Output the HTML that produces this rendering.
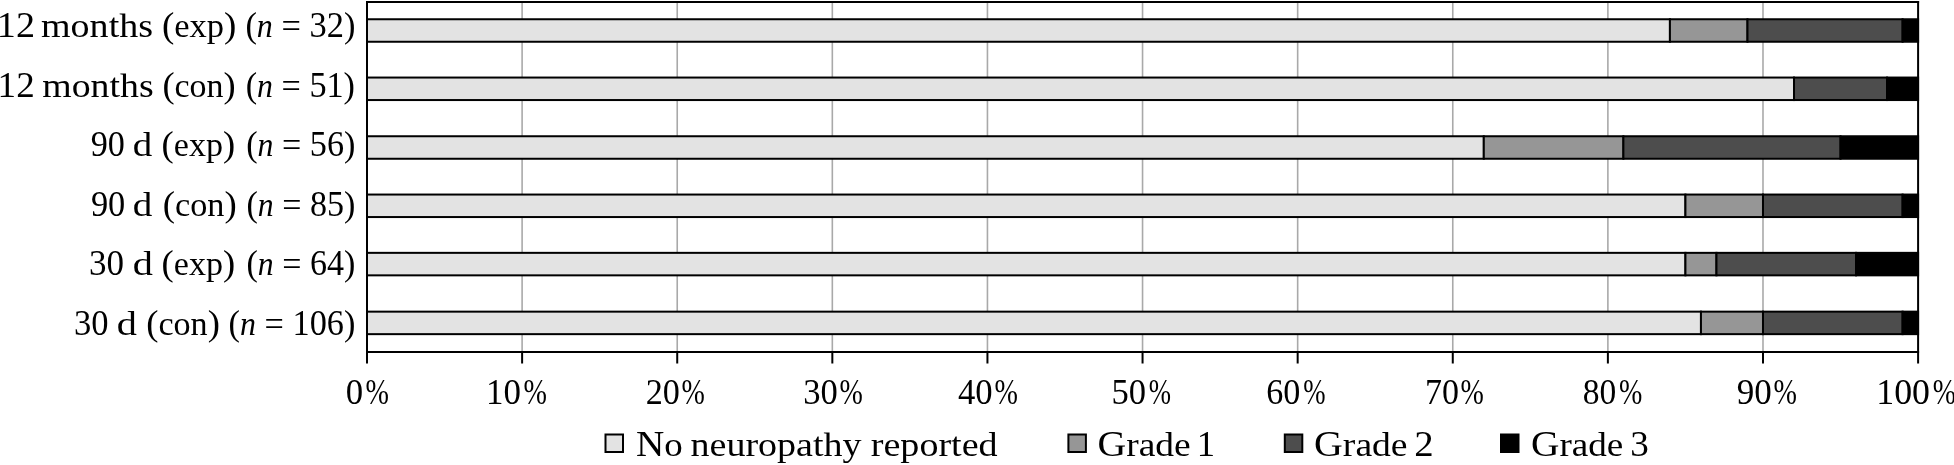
<!DOCTYPE html><html><head><meta charset="utf-8"><style>html,body{margin:0;padding:0;background:#fff;overflow:hidden;}svg{display:block;will-change:transform;}text{font-family:"Liberation Serif",serif;fill:#000;}</style></head><body>
<svg width="1954" height="465" viewBox="0 0 1954 465">
<rect x="0" y="0" width="1954" height="465" fill="#fff"/>
<line x1="522.11" y1="2" x2="522.11" y2="352" stroke="#a9a9a9" stroke-width="1.6"/>
<line x1="677.22" y1="2" x2="677.22" y2="352" stroke="#a9a9a9" stroke-width="1.6"/>
<line x1="832.33" y1="2" x2="832.33" y2="352" stroke="#a9a9a9" stroke-width="1.6"/>
<line x1="987.44" y1="2" x2="987.44" y2="352" stroke="#a9a9a9" stroke-width="1.6"/>
<line x1="1142.55" y1="2" x2="1142.55" y2="352" stroke="#a9a9a9" stroke-width="1.6"/>
<line x1="1297.66" y1="2" x2="1297.66" y2="352" stroke="#a9a9a9" stroke-width="1.6"/>
<line x1="1452.77" y1="2" x2="1452.77" y2="352" stroke="#a9a9a9" stroke-width="1.6"/>
<line x1="1607.88" y1="2" x2="1607.88" y2="352" stroke="#a9a9a9" stroke-width="1.6"/>
<line x1="1762.99" y1="2" x2="1762.99" y2="352" stroke="#a9a9a9" stroke-width="1.6"/>
<rect x="367.00" y="19.25" width="1302.92" height="22.50" fill="#e3e3e3" stroke="#000" stroke-width="2"/>
<rect x="1669.92" y="19.25" width="77.56" height="22.50" fill="#969696" stroke="#000" stroke-width="2"/>
<rect x="1747.48" y="19.25" width="155.11" height="22.50" fill="#4d4d4d" stroke="#000" stroke-width="2"/>
<rect x="1902.59" y="19.25" width="15.51" height="22.50" fill="#000000" stroke="#000" stroke-width="2"/>
<rect x="367.00" y="77.55" width="1427.01" height="22.50" fill="#e3e3e3" stroke="#000" stroke-width="2"/>
<rect x="1794.01" y="77.55" width="93.07" height="22.50" fill="#4d4d4d" stroke="#000" stroke-width="2"/>
<rect x="1887.08" y="77.55" width="31.02" height="22.50" fill="#000000" stroke="#000" stroke-width="2"/>
<rect x="367.00" y="136.25" width="1116.79" height="22.50" fill="#e3e3e3" stroke="#000" stroke-width="2"/>
<rect x="1483.79" y="136.25" width="139.60" height="22.50" fill="#969696" stroke="#000" stroke-width="2"/>
<rect x="1623.39" y="136.25" width="217.15" height="22.50" fill="#4d4d4d" stroke="#000" stroke-width="2"/>
<rect x="1840.55" y="136.25" width="77.55" height="22.50" fill="#000000" stroke="#000" stroke-width="2"/>
<rect x="367.00" y="194.55" width="1318.43" height="22.50" fill="#e3e3e3" stroke="#000" stroke-width="2"/>
<rect x="1685.43" y="194.55" width="77.56" height="22.50" fill="#969696" stroke="#000" stroke-width="2"/>
<rect x="1762.99" y="194.55" width="139.60" height="22.50" fill="#4d4d4d" stroke="#000" stroke-width="2"/>
<rect x="1902.59" y="194.55" width="15.51" height="22.50" fill="#000000" stroke="#000" stroke-width="2"/>
<rect x="367.00" y="252.85" width="1318.43" height="22.50" fill="#e3e3e3" stroke="#000" stroke-width="2"/>
<rect x="1685.43" y="252.85" width="31.02" height="22.50" fill="#969696" stroke="#000" stroke-width="2"/>
<rect x="1716.46" y="252.85" width="139.60" height="22.50" fill="#4d4d4d" stroke="#000" stroke-width="2"/>
<rect x="1856.06" y="252.85" width="62.04" height="22.50" fill="#000000" stroke="#000" stroke-width="2"/>
<rect x="367.00" y="311.65" width="1333.95" height="22.50" fill="#e3e3e3" stroke="#000" stroke-width="2"/>
<rect x="1700.95" y="311.65" width="62.04" height="22.50" fill="#969696" stroke="#000" stroke-width="2"/>
<rect x="1762.99" y="311.65" width="139.60" height="22.50" fill="#4d4d4d" stroke="#000" stroke-width="2"/>
<rect x="1902.59" y="311.65" width="15.51" height="22.50" fill="#000000" stroke="#000" stroke-width="2"/>
<line x1="367" y1="1" x2="367" y2="363.5" stroke="#000" stroke-width="2"/>
<line x1="1918.1" y1="1" x2="1918.1" y2="363.5" stroke="#000" stroke-width="2"/>
<line x1="366" y1="2" x2="1919.1" y2="2" stroke="#000" stroke-width="2"/>
<line x1="366" y1="352" x2="1919.1" y2="352" stroke="#000" stroke-width="2"/>
<line x1="522.11" y1="352" x2="522.11" y2="363.5" stroke="#000" stroke-width="2"/>
<line x1="677.22" y1="352" x2="677.22" y2="363.5" stroke="#000" stroke-width="2"/>
<line x1="832.33" y1="352" x2="832.33" y2="363.5" stroke="#000" stroke-width="2"/>
<line x1="987.44" y1="352" x2="987.44" y2="363.5" stroke="#000" stroke-width="2"/>
<line x1="1142.55" y1="352" x2="1142.55" y2="363.5" stroke="#000" stroke-width="2"/>
<line x1="1297.66" y1="352" x2="1297.66" y2="363.5" stroke="#000" stroke-width="2"/>
<line x1="1452.77" y1="352" x2="1452.77" y2="363.5" stroke="#000" stroke-width="2"/>
<line x1="1607.88" y1="352" x2="1607.88" y2="363.5" stroke="#000" stroke-width="2"/>
<line x1="1762.99" y1="352" x2="1762.99" y2="363.5" stroke="#000" stroke-width="2"/>
<text x="-3.20" y="37.00" font-size="36" textLength="38.16" lengthAdjust="spacingAndGlyphs">12</text>
<text x="41.00" y="37.00" font-size="36" textLength="112.04" lengthAdjust="spacingAndGlyphs"><tspan font-size="33.5">months</tspan></text>
<text x="161.90" y="37.00" font-size="36" textLength="74.52" lengthAdjust="spacingAndGlyphs">(<tspan font-size="33.5">exp</tspan>)</text>
<text x="245.40" y="37.00" font-size="36" textLength="109.98" lengthAdjust="spacingAndGlyphs">(<tspan font-style="italic" font-size="33.5">n</tspan> <tspan dy="1.2">=</tspan><tspan dy="-1.2"> 32)</tspan></text>
<text x="-2.40" y="96.60" font-size="36" textLength="37.06" lengthAdjust="spacingAndGlyphs">12</text>
<text x="42.30" y="96.60" font-size="36" textLength="111.37" lengthAdjust="spacingAndGlyphs"><tspan font-size="33.5">months</tspan></text>
<text x="162.40" y="96.60" font-size="36" textLength="73.27" lengthAdjust="spacingAndGlyphs">(<tspan font-size="33.5">con</tspan>)</text>
<text x="245.70" y="96.60" font-size="36" textLength="109.30" lengthAdjust="spacingAndGlyphs">(<tspan font-style="italic" font-size="33.5">n</tspan> <tspan dy="1.2">=</tspan><tspan dy="-1.2"> 51)</tspan></text>
<text x="90.80" y="156.20" font-size="36" textLength="34.13" lengthAdjust="spacingAndGlyphs">90</text>
<text x="132.70" y="156.20" font-size="36" textLength="19.45" lengthAdjust="spacingAndGlyphs"><tspan font-size="33.5">d</tspan></text>
<text x="161.60" y="156.20" font-size="36" textLength="73.56" lengthAdjust="spacingAndGlyphs">(<tspan font-size="33.5">exp</tspan>)</text>
<text x="246.20" y="156.20" font-size="36" textLength="109.19" lengthAdjust="spacingAndGlyphs">(<tspan font-style="italic" font-size="33.5">n</tspan> <tspan dy="1.2">=</tspan><tspan dy="-1.2"> 56)</tspan></text>
<text x="90.90" y="215.60" font-size="36" textLength="34.36" lengthAdjust="spacingAndGlyphs">90</text>
<text x="132.80" y="215.60" font-size="36" textLength="19.51" lengthAdjust="spacingAndGlyphs"><tspan font-size="33.5">d</tspan></text>
<text x="162.70" y="215.60" font-size="36" textLength="74.01" lengthAdjust="spacingAndGlyphs">(<tspan font-size="33.5">con</tspan>)</text>
<text x="246.50" y="215.60" font-size="36" textLength="108.88" lengthAdjust="spacingAndGlyphs">(<tspan font-style="italic" font-size="33.5">n</tspan> <tspan dy="1.2">=</tspan><tspan dy="-1.2"> 85)</tspan></text>
<text x="89.00" y="275.20" font-size="36" textLength="35.03" lengthAdjust="spacingAndGlyphs">30</text>
<text x="132.70" y="275.20" font-size="36" textLength="20.12" lengthAdjust="spacingAndGlyphs"><tspan font-size="33.5">d</tspan></text>
<text x="161.60" y="275.20" font-size="36" textLength="73.56" lengthAdjust="spacingAndGlyphs">(<tspan font-size="33.5">exp</tspan>)</text>
<text x="246.50" y="275.20" font-size="36" textLength="108.88" lengthAdjust="spacingAndGlyphs">(<tspan font-style="italic" font-size="33.5">n</tspan> <tspan dy="1.2">=</tspan><tspan dy="-1.2"> 64)</tspan></text>
<text x="73.90" y="334.80" font-size="36" textLength="34.54" lengthAdjust="spacingAndGlyphs">30</text>
<text x="116.70" y="334.80" font-size="36" textLength="20.12" lengthAdjust="spacingAndGlyphs"><tspan font-size="33.5">d</tspan></text>
<text x="146.20" y="334.80" font-size="36" textLength="73.70" lengthAdjust="spacingAndGlyphs">(<tspan font-size="33.5">con</tspan>)</text>
<text x="228.60" y="334.80" font-size="36" textLength="126.76" lengthAdjust="spacingAndGlyphs">(<tspan font-style="italic" font-size="33.5">n</tspan> <tspan dy="1.2">=</tspan><tspan dy="-1.2"> 106)</tspan></text>
<text x="345.70" y="403.90" font-size="36" textLength="17.36" lengthAdjust="spacingAndGlyphs">0</text>
<text x="365.40" y="403.90" font-size="36" textLength="23.40" lengthAdjust="spacingAndGlyphs">%</text>
<text x="486.00" y="403.90" font-size="36" textLength="34.91" lengthAdjust="spacingAndGlyphs">10</text>
<text x="523.50" y="403.90" font-size="36" textLength="23.40" lengthAdjust="spacingAndGlyphs">%</text>
<text x="645.70" y="403.90" font-size="36" textLength="34.15" lengthAdjust="spacingAndGlyphs">20</text>
<text x="681.60" y="403.90" font-size="36" textLength="23.30" lengthAdjust="spacingAndGlyphs">%</text>
<text x="803.30" y="403.90" font-size="36" textLength="34.57" lengthAdjust="spacingAndGlyphs">30</text>
<text x="839.60" y="403.90" font-size="36" textLength="23.30" lengthAdjust="spacingAndGlyphs">%</text>
<text x="958.00" y="403.90" font-size="36" textLength="34.68" lengthAdjust="spacingAndGlyphs">40</text>
<text x="994.50" y="403.90" font-size="36" textLength="23.40" lengthAdjust="spacingAndGlyphs">%</text>
<text x="1111.60" y="403.90" font-size="36" textLength="34.53" lengthAdjust="spacingAndGlyphs">50</text>
<text x="1148.80" y="403.90" font-size="36" textLength="22.24" lengthAdjust="spacingAndGlyphs">%</text>
<text x="1266.30" y="403.90" font-size="36" textLength="34.11" lengthAdjust="spacingAndGlyphs">60</text>
<text x="1303.20" y="403.90" font-size="36" textLength="22.29" lengthAdjust="spacingAndGlyphs">%</text>
<text x="1424.90" y="403.90" font-size="36" textLength="34.00" lengthAdjust="spacingAndGlyphs">70</text>
<text x="1460.60" y="403.90" font-size="36" textLength="23.30" lengthAdjust="spacingAndGlyphs">%</text>
<text x="1582.70" y="403.90" font-size="36" textLength="33.53" lengthAdjust="spacingAndGlyphs">80</text>
<text x="1619.00" y="403.90" font-size="36" textLength="23.30" lengthAdjust="spacingAndGlyphs">%</text>
<text x="1736.80" y="403.90" font-size="36" textLength="35.01" lengthAdjust="spacingAndGlyphs">90</text>
<text x="1773.50" y="403.90" font-size="36" textLength="23.40" lengthAdjust="spacingAndGlyphs">%</text>
<text x="1876.30" y="403.90" font-size="36" textLength="53.66" lengthAdjust="spacingAndGlyphs">100</text>
<text x="1932.80" y="403.90" font-size="36" textLength="23.15" lengthAdjust="spacingAndGlyphs">%</text>
<text x="636.00" y="456.00" font-size="35.5" textLength="46.78" lengthAdjust="spacingAndGlyphs">N<tspan font-size="33.5">o</tspan></text>
<text x="690.60" y="456.00" font-size="35.5" textLength="170.94" lengthAdjust="spacingAndGlyphs"><tspan font-size="33.5">neuropathy</tspan></text>
<text x="870.80" y="456.00" font-size="35.5" textLength="126.84" lengthAdjust="spacingAndGlyphs"><tspan font-size="33.5">reported</tspan></text>
<text x="1097.60" y="456.00" font-size="35.5" textLength="93.17" lengthAdjust="spacingAndGlyphs">G<tspan font-size="33.5">rade</tspan></text>
<text x="1196.70" y="456.00" font-size="35.5" textLength="18.31" lengthAdjust="spacingAndGlyphs">1</text>
<text x="1314.10" y="456.00" font-size="35.5" textLength="93.46" lengthAdjust="spacingAndGlyphs">G<tspan font-size="33.5">rade</tspan></text>
<text x="1414.30" y="456.00" font-size="35.5" textLength="19.40" lengthAdjust="spacingAndGlyphs">2</text>
<text x="1531.10" y="456.00" font-size="35.5" textLength="92.21" lengthAdjust="spacingAndGlyphs">G<tspan font-size="33.5">rade</tspan></text>
<text x="1630.30" y="456.00" font-size="35.5" textLength="18.54" lengthAdjust="spacingAndGlyphs">3</text>
<rect x="605.5" y="434.5" width="17.5" height="17.5" fill="#e3e3e3" stroke="#000" stroke-width="2"/>
<rect x="1068.4" y="434.5" width="17.5" height="17.5" fill="#969696" stroke="#000" stroke-width="2"/>
<rect x="1284.8" y="434.5" width="17.5" height="17.5" fill="#4d4d4d" stroke="#000" stroke-width="2"/>
<rect x="1501" y="434.5" width="17.5" height="17.5" fill="#000000" stroke="#000" stroke-width="2"/>
</svg></body></html>
